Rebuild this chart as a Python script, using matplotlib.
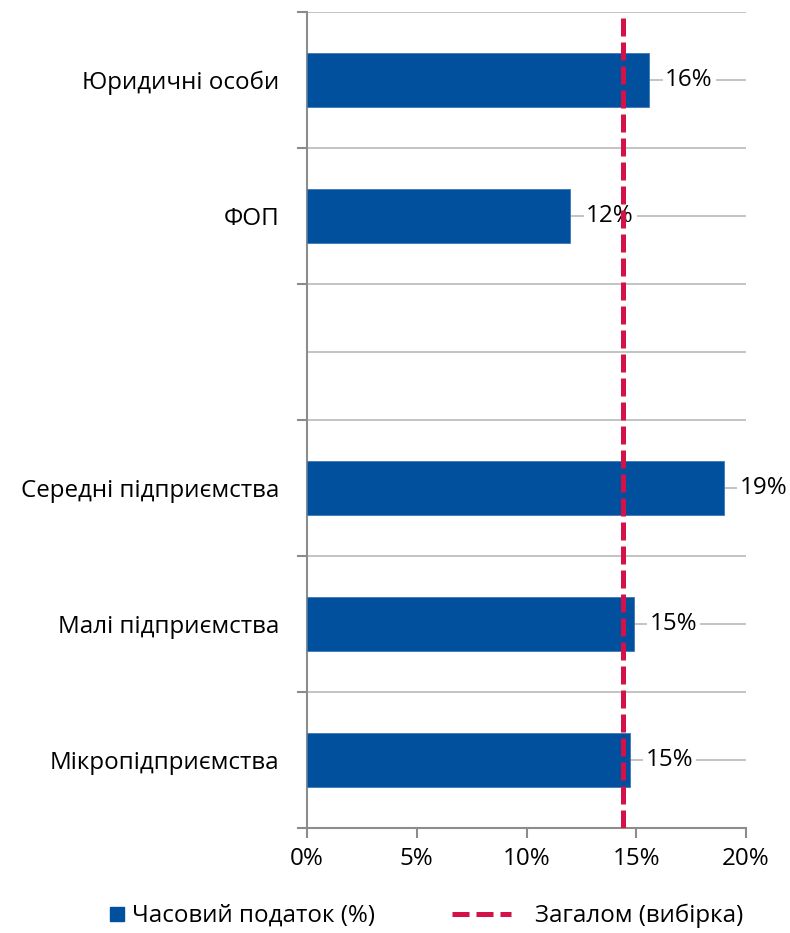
import numpy as np
import matplotlib.pyplot as plt
from matplotlib.lines import Line2D
from matplotlib.ticker import FixedLocator, PercentFormatter

plt.rcParams['font.family'] = ['Open Sans', 'DejaVu Sans']

# top to bottom; empty slot between the two groups
categories = ["Юридичні особи", "ФОП", "", "Середні підприємства",
              "Малі підприємства", "Мікропідприємства"]
values = [15.6, 12.0, np.nan, 19.0, 14.9, 14.7]
overall = 14.4

BLUE = "#00509E"
RED = "#D41148"
GRID = "#BEBEBE"
AXIS = "#8C8C8C"
FS = 17.4

fig = plt.figure(figsize=(7.9, 9.33), dpi=100)
ax = fig.add_axes([307 / 790, 1 - 828 / 933, (746 - 307) / 790, (828 - 12) / 933])

n = len(categories)
ypos = np.arange(n)
ax.barh(ypos, values, height=0.4, color=BLUE, edgecolor="#3C78B8",
        linewidth=0.6, zorder=3)

for y, v in zip(ypos, values):
    if np.isnan(v):
        continue
    ax.text(v + 0.72, y, f"{v:.0f}%", va="center", ha="left", fontsize=FS,
            zorder=4, bbox=dict(facecolor="white", edgecolor="none", pad=2))

ax.axvline(overall, color=RED, linewidth=3.6, dashes=(3.6, 1.2), zorder=5)

ax.set_xlim(0, 20)
ax.set_ylim(n - 0.5, -0.5)
ax.set_xticks([0, 5, 10, 15, 20])
ax.xaxis.set_major_formatter(PercentFormatter(decimals=0))

ax.set_yticks(np.arange(n + 1) - 0.5)
ax.set_yticklabels([])
ax.yaxis.set_minor_locator(FixedLocator(ypos))
ax.set_yticks(ypos, minor=True)
ax.set_yticklabels(categories, minor=True)
ax.tick_params(axis="y", which="minor", length=0, pad=20, labelsize=FS)
ax.tick_params(axis="y", which="major", length=7, width=1.5, color=AXIS)
ax.tick_params(axis="x", length=7, width=1.5, color=AXIS, labelsize=FS, pad=7)

ax.grid(axis="y", which="both", color=GRID, linewidth=1.3, zorder=0)
ax.set_axisbelow(True)

for s in ["top", "right"]:
    ax.spines[s].set_visible(False)
for s in ["left", "bottom"]:
    ax.spines[s].set_color(AXIS)
    ax.spines[s].set_linewidth(1.5)

leg_y = 1 - 916 / 933
h_bar = Line2D([], [], marker="s", linestyle="none", markersize=10,
               markerfacecolor=BLUE, markeredgecolor=BLUE)
h_line = Line2D([], [], color=RED, linewidth=3.6, dashes=(3.4, 1.4))
fig.legend([h_bar], ["Часовий податок (%)"], loc="center left",
           bbox_to_anchor=(96 / 790, leg_y), frameon=False, fontsize=FS,
           handlelength=0.7, handletextpad=0.3, borderpad=0)
fig.legend([h_line], ["Загалом (вибірка)"], loc="center left",
           bbox_to_anchor=(452 / 790, leg_y), frameon=False, fontsize=FS,
           handlelength=2.45, handletextpad=1.0, borderpad=0, borderaxespad=0)

fig.savefig("out.png", dpi=100)
